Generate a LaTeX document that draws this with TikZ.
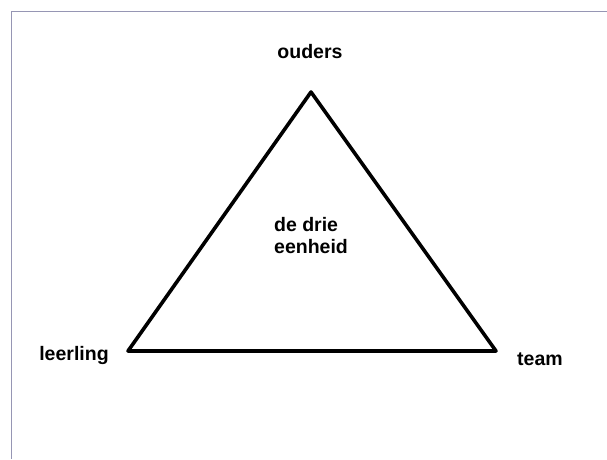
\documentclass[tikz,border=0pt]{standalone}
\usepackage{fontspec}
\setmainfont{Liberation Sans}
\usetikzlibrary{positioning}

\begin{document}
\begin{tikzpicture}[x=1pt,y=-1pt,
    label text/.style={font=\fontsize{19.5}{22}\selectfont\bfseries,inner sep=0pt},
    side/.style={line width=3.6pt,line join=round,line cap=round}]

\useasboundingbox (0,0) rectangle (607,459);

% frame at the top and left
\draw [color={rgb,255:red,150;green,150;blue,180},line width=0.8pt] (607,11) -- (11,11) -- (11,459);

% corners of the triangle
\coordinate (ouderspt) at (311,92);
\coordinate (leerlingpt) at (128,351);
\coordinate (teampt) at (496,351);

\draw [side] (ouderspt) -- (teampt) -- (leerlingpt) -- cycle;

\node (ouders) [label text] at (310,52) {ouders};
\node (leerling) [label text] at (74,355) {leerling};
\node (team) [label text] at (540,359) {team};
\node (eenheid) [label text,align=left] at (311,236) {de drie\\eenheid};

\end{tikzpicture}
\end{document}
